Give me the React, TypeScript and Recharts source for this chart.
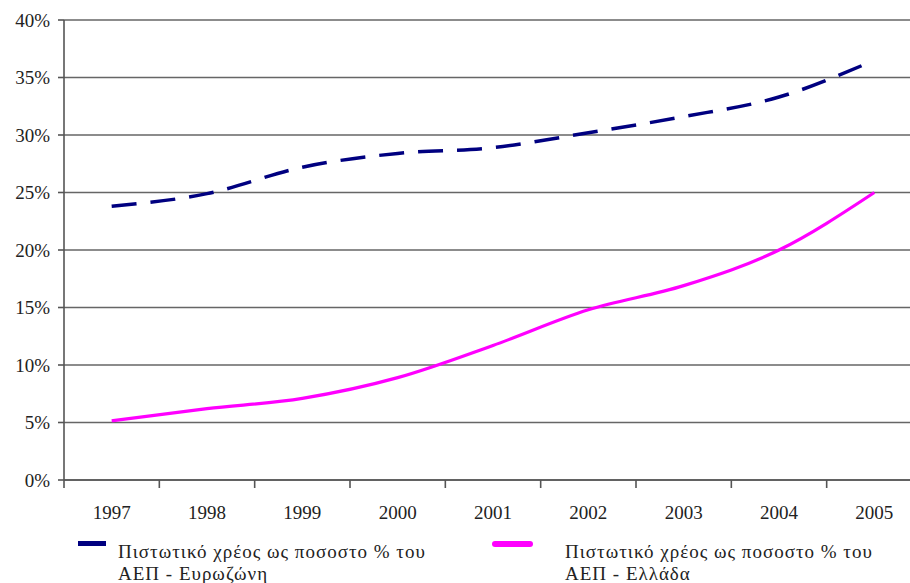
import { LineChart, Line, XAxis, YAxis, CartesianGrid } from 'recharts';

// Credit as % of GDP, euro area vs Greece
const years = [1997, 1998, 1999, 2000, 2001, 2002, 2003, 2004, 2005];
const euroArea = [23.8, 24.9, 27.2, 28.4, 28.9, 30.2, 31.6, 33.3, 36.5];
const greece = [5.15, 6.2, 7.1, 8.9, 11.7, 14.8, 16.9, 20.0, 25.0];
const yTicks = [0, 5, 10, 15, 20, 25, 30, 35, 40];
const seriesNames = [
  'Πιστωτικό χρέος ως ποσοστο % του ΑΕΠ - Ευρωζώνη',
  'Πιστωτικό χρέος ως ποσοστο % του ΑΕΠ - Ελλάδα',
];

const chartData = years.map((year, i) => ({
  year,
  euro: euroArea[i],
  gr: greece[i],
}));

const FONT = '"Liberation Serif", "Times New Roman", Times, serif';
const NAVY = '#000080';
const MAGENTA = '#ff00ff';
const AXIS = '#555';

const CHART_W = 930;
const CHART_H = 583;
const Y_AXIS_W = 64;
const RIGHT = 8;
// width of one year slot, ticks sit on slot boundaries
const BAND = (CHART_W - Y_AXIS_W - RIGHT) / years.length;

const YearTick = (props: any) => {
  const { x, y, payload } = props;
  return (
    <g>
      <line x1={x - BAND / 2} x2={x - BAND / 2} y1={y - 6} y2={y + 2} stroke={AXIS} strokeWidth={1.6} />
      <text x={x} y={y + 33} textAnchor="middle" style={{ fontFamily: FONT }} fontSize={19} fill="#222">
        {payload.value}
      </text>
    </g>
  );
};

const legendText = {
  position: 'absolute' as const,
  top: 541,
  width: 330,
  fontFamily: FONT,
  fontSize: 19,
  letterSpacing: 1,
  lineHeight: '22px',
  color: '#222',
};

const App = () => {
  return (
    <div
      style={{
        position: 'absolute',
        left: 0,
        top: 0,
        width: 910,
        height: 583,
        overflow: 'hidden',
        background: '#fff',
      }}
    >
      <LineChart
        width={CHART_W}
        height={CHART_H}
        data={chartData}
        margin={{ top: 20, right: RIGHT, bottom: 0, left: 0 }}
      >
        <CartesianGrid vertical={false} stroke="#666" strokeWidth={1.6} />
        <XAxis
          dataKey="year"
          type="number"
          domain={[years[0] - 0.5, years[years.length - 1] + 0.5]}
          allowDataOverflow
          ticks={years}
          height={103}
          tickLine={false}
          tickSize={6}
          tickMargin={0}
          tick={<YearTick />}
          axisLine={{ stroke: AXIS, strokeWidth: 1.6 }}
        />
        <YAxis
          width={Y_AXIS_W}
          domain={[0, 40]}
          ticks={yTicks}
          tickFormatter={(v) => `${v}%`}
          tick={{ style: { fontFamily: FONT }, fontSize: 19, fill: '#222' }}
          tickMargin={8}
          tickSize={6}
          tickLine={{ stroke: AXIS, strokeWidth: 1.6 }}
          axisLine={{ stroke: AXIS, strokeWidth: 1.6 }}
        />
        <Line
          type="monotone"
          dataKey="euro"
          name={seriesNames[0]}
          stroke={NAVY}
          strokeWidth={3.5}
          strokeDasharray="25 14"
          dot={false}
          isAnimationActive={false}
        />
        <Line
          type="monotone"
          dataKey="gr"
          name={seriesNames[1]}
          stroke={MAGENTA}
          strokeWidth={3.2}
          dot={false}
          isAnimationActive={false}
        />
      </LineChart>

      {/* legend */}
      <div style={{ position: 'absolute', left: 78, top: 541, width: 28, height: 5, background: NAVY }} />
      <div style={{ ...legendText, left: 118 }}>{seriesNames[0]}</div>
      <div
        style={{
          position: 'absolute',
          left: 492,
          top: 541,
          width: 41,
          height: 6,
          borderRadius: 3,
          background: MAGENTA,
        }}
      />
      <div style={{ ...legendText, left: 565 }}>{seriesNames[1]}</div>
    </div>
  );
};

export default App;
